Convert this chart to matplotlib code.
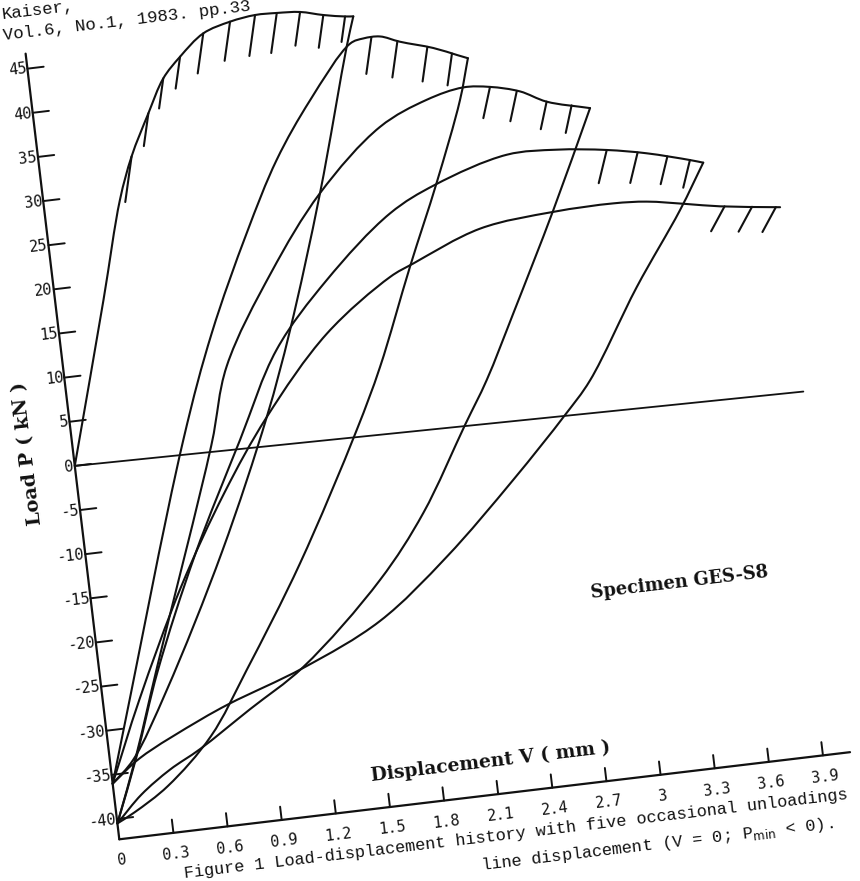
import numpy as np
import matplotlib
matplotlib.use("Agg")
import matplotlib.pyplot as plt
from matplotlib.transforms import Affine2D
from matplotlib.path import Path
from matplotlib.patches import PathPatch

# ---------------- data (V in mm, P in kN) ----------------
v_ticks = [0, 0.3, 0.6, 0.9, 1.2, 1.5, 1.8, 2.1, 2.4, 2.7, 3, 3.3, 3.6, 3.9]
v_tick_labels = ["0", "0.3", "0.6", "0.9", "1.2", "1.5", "1.8", "2.1", "2.4", "2.7", "3", "3.3", "3.6", "3.9"]
p_ticks = [-40, -35, -30, -25, -20, -15, -10, -5, 0, 5, 10, 15, 20, 25, 30, 35, 40, 45]

# cycle 1: first loading from the origin, then unloading to V = 0
load1_V = [0, 0.265, 0.42, 0.512, 0.632, 0.736, 0.842, 0.984, 1.138, 1.279, 1.399, 1.527, 1.652, 1.77, 1.815]
load1_P = [0, 18.15, 29.1, 33.8, 38.4, 42.1, 44.3, 46.6, 47.55, 47.96, 47.9, 47.7, 47.05, 46.6, 46.5]
unl1_V = [1.815, 1.759, 1.518, 1.265, 1.081, 0.75, 0.357, 0.128, 0]
unl1_P = [46.5, 43.2, 27.2, 12.3, 2.9, -11.5, -26.25, -33.6, -36]

# cycle 2
load2_V = [0, 0.61, 0.835, 1.091, 1.303, 1.524, 1.78, 1.855, 1.948, 2.053, 2.232, 2.357, 2.414]
load2_P = [-36, 1.45, 13.0, 23.7, 31.5, 37.7, 43.5, 43.9, 43.9, 43.05, 41.9, 40.8, 40.3]
unl2_V = [2.414, 2.343, 2.162, 1.962, 1.733, 1.564, 1.167, 0.806, 0.568, 0.3, 0.1, 0]
unl2_P = [40.3, 35.7, 26.8, 17.8, 7.0, 0.25, -13.9, -25.1, -32.0, -37.0, -39.5, -40.5]

# cycle 3
load3_V = [0, 0.15, 0.32, 0.76, 0.895, 1.2, 1.518, 1.889, 2.161, 2.368, 2.516, 2.677, 2.816, 3.049]
load3_P = [-40.5, -33.0, -23.5, 0.5, 9.1, 19.0, 27.2, 33.8, 36.2, 37.1, 36.8, 35.9, 34.4, 33.1]
unl3_V = [3.049, 2.782, 2.496, 2.307, 2.16, 1.874, 1.594, 1.118, 0.8, 0.5, 0.322, 0.15, 0]
unl3_P = [33.1, 22.2, 11.2, 4.1, -0.6, -9.9, -16.8, -25.5, -29.5, -33.3, -35.2, -37.6, -40.5]

# cycle 4
load4_V = [0, 0.15, 0.32, 0.6, 0.92, 1.179, 1.498, 1.887, 2.152, 2.563, 2.84, 3.113, 3.329, 3.561, 3.632]
load4_P = [-40.5, -33.2, -24.0, -11.5, 0.7, 10.3, 17.4, 24.0, 26.6, 29.0, 28.9, 28.2, 27.3, 25.97, 25.5]
unl4_V = [3.632, 3.474, 3.188, 2.872, 2.712, 2.387, 1.974, 1.566, 1.118, 0.693, 0.519, 0.166, 0]
unl4_P = [25.5, 20.5, 12.5, 2.7, -0.85, -7.4, -15.1, -21.4, -25.6, -28.6, -30.05, -33.5, -36]

# cycle 5
load5_V = [0, 0.2, 0.5, 0.8, 1.081, 1.463, 1.846, 1.982, 2.369, 2.781, 3.114, 3.298, 3.515, 3.695, 4.023]
load5_P = [-36, -27.0, -15.0, -5.0, 2.9, 11.4, 16.9, 18.1, 21.1, 22.0, 22.15, 21.9, 21.1, 20.4, 19.5]

# partial unloadings (short drops hanging from each envelope)
drops1_V = [0.512, 0.632, 0.736, 0.842, 0.984, 1.138, 1.279, 1.399, 1.527, 1.652, 1.77]
drops1_dP = [5.0, 3.6, 3.3, 3.5, 4.4, 4.3, 4.5, 4.4, 3.7, 3.6, 2.8]
drops2_V = [1.9, 2.04, 2.2, 2.33]
drops2_dP = [4.0, 4.0, 3.8, 3.5]
drops3_V = [2.516, 2.66, 2.816, 2.95]
drops3_dP = [3.4, 3.3, 3.0, 3.0]
drops4_V = [3.113, 3.28, 3.44, 3.561]
drops4_dP = [3.6, 3.3, 3.0, 3.0]
drops5_V = [3.72, 3.87, 4.0]
drops5_dP = [2.6, 2.6, 2.6]
drop_stiffness = [78, 78, 60, 55, 29]   # kN/mm, slope of the short drops

zero_V = [0, 4.03]
zero_P = [0, -1.4]

# ---------------- page geometry ----------------
W, H = 860, 881
fig = plt.figure(figsize=(W / 100, H / 100), dpi=100)
ax = fig.add_axes([0, 0, 1, 1])
ax.set_xlim(0, W)
ax.set_ylim(0, H)
ax.axis("off")

ANGLE = 6.8          # scan rotation (deg)
PX_MM = 181.7
PX_KN = 8.89
P_AX = -42.3         # load level of displacement axis
V_MAX = 4.05
P_MAX = 46.7
origin = (119.3, H - 839.3)

tr = (Affine2D().translate(0, -P_AX).scale(PX_MM, PX_KN)
      .rotate_deg(ANGLE).translate(*origin) + ax.transData)

LW = 1.5
ink = "#111111"


def line(v, p, lw=LW):
    ax.plot(v, p, color=ink, lw=lw, transform=tr, solid_capstyle="round",
            solid_joinstyle="round")


def curve(v, p, lw=LW):
    """smooth pen stroke through the read points (centripetal Catmull-Rom)"""
    pts = np.column_stack([np.asarray(v, float) * PX_MM, np.asarray(p, float) * PX_KN])
    n = len(pts)
    ext = np.vstack([2 * pts[0] - pts[1], pts, 2 * pts[-1] - pts[-2]])
    verts = [pts[0]]
    codes = [Path.MOVETO]
    for i in range(1, n):
        P0, P1, P2, P3 = ext[i - 1], ext[i], ext[i + 1], ext[i + 2]
        d1 = max(np.linalg.norm(P1 - P0) ** 0.5, 1e-6)
        d2 = max(np.linalg.norm(P2 - P1) ** 0.5, 1e-6)
        d3 = max(np.linalg.norm(P3 - P2) ** 0.5, 1e-6)
        B1 = (d1 ** 2 * P2 - d2 ** 2 * P0 + (2 * d1 ** 2 + 3 * d1 * d2 + d2 ** 2) * P1) / (3 * d1 * (d1 + d2))
        B2 = (d3 ** 2 * P1 - d2 ** 2 * P3 + (2 * d3 ** 2 + 3 * d3 * d2 + d2 ** 2) * P2) / (3 * d3 * (d3 + d2))
        verts += [B1, B2, P2]
        codes += [Path.CURVE4] * 3
    verts = np.array(verts) / np.array([PX_MM, PX_KN])
    ax.add_patch(PathPatch(Path(verts, codes), fill=False, lw=lw, ec=ink,
                           transform=tr, capstyle="round", joinstyle="round"))


# axes
line([0, V_MAX], [P_AX, P_AX], lw=1.6)
line([0, 0], [P_AX, P_MAX], lw=1.6)
for v in v_ticks[1:]:
    line([v, v], [P_AX, P_AX + 1.5], lw=1.4)
for p in p_ticks:
    line([0, 0.09], [p, p], lw=1.4)

mono = "DejaVu Sans Mono"
for v, lab in zip(v_ticks, v_tick_labels):
    ax.text(v, P_AX - 2.4, lab, transform=tr, rotation=ANGLE, rotation_mode="anchor",
            ha="center", va="center", fontsize=11, family=mono, color=ink)
for p in p_ticks:
    ax.text(-0.005, p, str(p), transform=tr, rotation=ANGLE, rotation_mode="anchor",
            ha="right", va="center", fontsize=11, family=mono, color=ink)

serif = "DejaVu Serif"
ax.text(-0.25, 2.0, "Load P ( kN )", transform=tr, rotation=90 + ANGLE,
        rotation_mode="anchor", ha="center", va="center", fontsize=14,
        family=serif, weight="bold", color=ink)
ax.text(2.08, P_AX + 3.7, "Displacement V ( mm )", transform=tr, rotation=ANGLE,
        rotation_mode="anchor", ha="center", va="center", fontsize=13.5,
        family=serif, weight="bold", color=ink)
ax.text(3.23, -21.1, "Specimen GES-S8", transform=tr, rotation=ANGLE,
        rotation_mode="anchor", ha="center", va="center", fontsize=12.8,
        family=serif, weight="bold", color=ink)

# curves
line(zero_V, zero_P, lw=1.3)
for v, p in [(load1_V, load1_P), (unl1_V, unl1_P), (load2_V, load2_P), (unl2_V, unl2_P),
             (load3_V, load3_P), (unl3_V, unl3_P), (load4_V, load4_P), (unl4_V, unl4_P),
             (load5_V, load5_P)]:
    curve(v, p)

envs = [(load1_V, load1_P), (load2_V, load2_P), (load3_V, load3_P),
        (load4_V, load4_P), (load5_V, load5_P)]
drops = [(drops1_V, drops1_dP), (drops2_V, drops2_dP), (drops3_V, drops3_dP),
         (drops4_V, drops4_dP), (drops5_V, drops5_dP)]
for (ev, ep), (dv, dp), k in zip(envs, drops, drop_stiffness):
    for v0, d in zip(dv, dp):
        p0 = np.interp(v0, ev, ep)
        line([v0, v0 - d / k], [p0, p0 - d])

# typewritten reference and caption on the page
cour = "Liberation Mono"
ax.text(2, H - 19, "Kaiser,", rotation=ANGLE, rotation_mode="anchor",
        ha="left", va="baseline", fontsize=12.5, family=cour, color=ink)
ax.text(4, H - 40, "Vol.6, No.1, 1983. pp.33", rotation=ANGLE,
        rotation_mode="anchor", ha="left", va="baseline", fontsize=12.5, family=cour, color=ink)
ax.text(848, H - 799, "Figure 1 Load-displacement history with five occasional unloadings",
        rotation=ANGLE, rotation_mode="anchor", ha="right", va="baseline",
        fontsize=12.2, family=cour, color=ink)
ax.text(834, H - 828, "line displacement (V = 0; P$_{\\rm min}$ < 0).",
        rotation=ANGLE, rotation_mode="anchor", ha="right", va="baseline",
        fontsize=12.2, family=cour, color=ink)

fig.savefig("out.png", dpi=100, facecolor="white")
